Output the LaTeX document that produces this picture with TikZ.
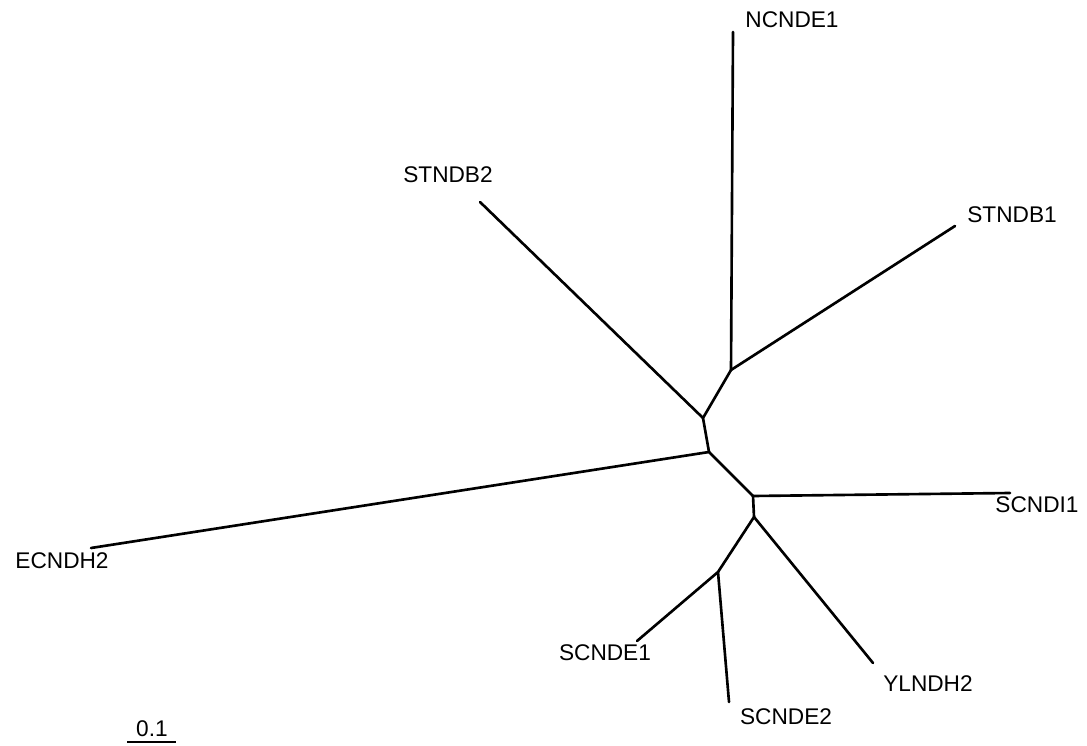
\documentclass[tikz,border=0pt]{standalone}
\usepackage{fontspec}
\setmainfont{Liberation Sans}
\begin{document}
\begin{tikzpicture}[
    x=0.02cm, y=-0.02cm,
    branch/.style={line width=1.5pt, line cap=round},
    leaf/.style={font=\fontsize{12.9}{15}\selectfont, inner sep=0pt},
]
\useasboundingbox (0,0) rectangle (1087,746);

% Internal nodes
\coordinate (ncst) at (731,370);
\coordinate (stb2) at (703,418);
\coordinate (root) at (709,452);
\coordinate (sci) at (753,496);
\coordinate (yl) at (754,517);
\coordinate (sce) at (718,572);

% Branch tips
\coordinate (tNCNDE1) at (733,32);
\coordinate (tSTNDB1) at (955,226);
\coordinate (tSTNDB2) at (480,202);
\coordinate (tECNDH2) at (91,548);
\coordinate (tSCNDI1) at (1010,493);
\coordinate (tYLNDH2) at (873,663);
\coordinate (tSCNDE1) at (637,641);
\coordinate (tSCNDE2) at (729,702);

% Labels
\node[leaf] (NCNDE1) at (792,20) {NCNDE1};
\node[leaf] (STNDB1) at (1012,215) {STNDB1};
\node[leaf] (STNDB2) at (448,175) {STNDB2};
\node[leaf] (ECNDH2) at (62,561) {ECNDH2};
\node[leaf] (SCNDI1) at (1037,505) {SCNDI1};
\node[leaf] (YLNDH2) at (928,684) {YLNDH2};
\node[leaf] (SCNDE1) at (605,653) {SCNDE1};
\node[leaf] (SCNDE2) at (786,717) {SCNDE2};

% Tree
\draw[branch] (ncst) -- (tNCNDE1);
\draw[branch] (ncst) -- (tSTNDB1);
\draw[branch] (ncst) -- (stb2);
\draw[branch] (stb2) -- (tSTNDB2);
\draw[branch] (stb2) -- (root);
\draw[branch] (root) -- (tECNDH2);
\draw[branch] (root) -- (sci);
\draw[branch] (sci) -- (tSCNDI1);
\draw[branch] (sci) -- (yl);
\draw[branch] (yl) -- (tYLNDH2);
\draw[branch] (yl) -- (sce);
\draw[branch] (sce) -- (tSCNDE1);
\draw[branch] (sce) -- (tSCNDE2);

% Scale bar
\node[leaf] (scale) at (152,729) {0.1};
\coordinate (barL) at (127,742);
\coordinate (barR) at (176,742);
\draw[branch, line cap=butt] (barL) -- (barR);

\end{tikzpicture}
\end{document}
